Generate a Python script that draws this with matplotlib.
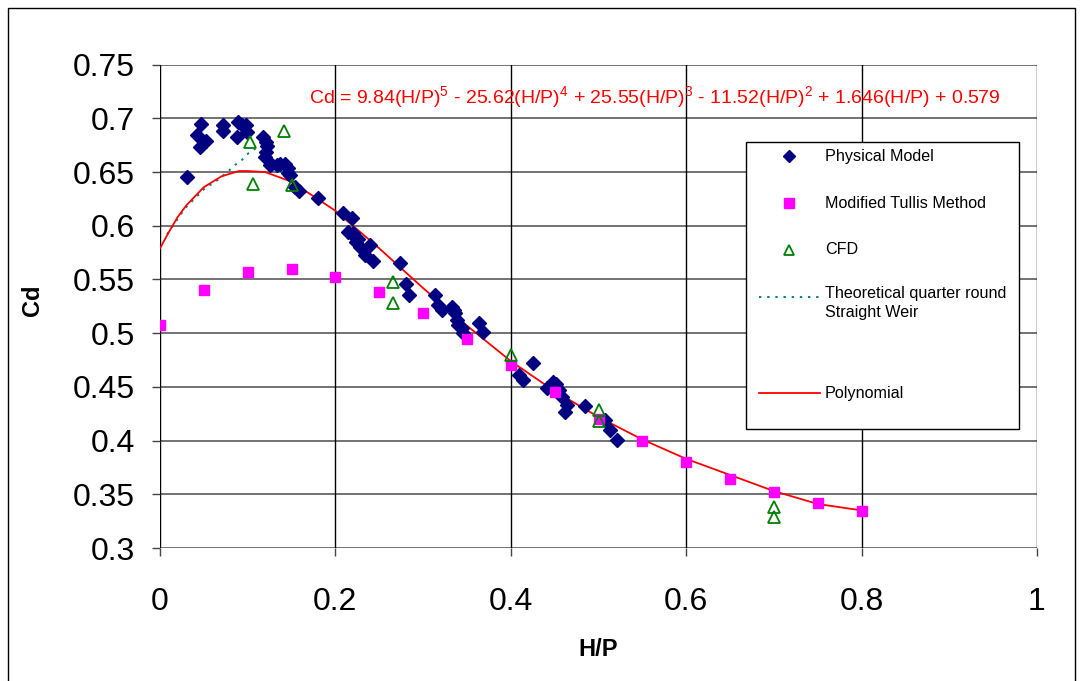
import matplotlib
matplotlib.use("Agg")
import matplotlib.pyplot as plt
from matplotlib.lines import Line2D
from matplotlib.patches import Rectangle

plt.rcParams['font.family'] = ['Liberation Sans', 'DejaVu Sans']
plt.rcParams['mathtext.fontset'] = 'custom'
plt.rcParams['mathtext.rm'] = 'Liberation Sans'
plt.rcParams['mathtext.it'] = 'Liberation Sans:italic'
plt.rcParams['mathtext.bf'] = 'Liberation Sans:bold'

# ---------------- data ----------------
phys_x = [0.031, 0.0418, 0.0468, 0.046, 0.053, 0.072, 0.072, 0.0874, 0.0893, 0.093,
          0.098, 0.0988, 0.1178, 0.121, 0.1224, 0.121, 0.1197, 0.1254, 0.127, 0.133,
          0.137, 0.1425, 0.146, 0.146, 0.148, 0.154, 0.158, 0.180, 0.209, 0.2186,
          0.2147, 0.220, 0.2223, 0.224, 0.226, 0.228, 0.2395, 0.2337, 0.2432, 0.2737,
          0.2805, 0.2843, 0.3136, 0.3174, 0.3212, 0.3326, 0.335, 0.3364, 0.3383, 0.340,
          0.344, 0.3458, 0.364, 0.368, 0.4097, 0.4143, 0.425, 0.441, 0.4485, 0.4504,
          0.452, 0.455, 0.458, 0.4637, 0.4618, 0.4846, 0.507, 0.513, 0.5215]
phys_y = [0.645, 0.685, 0.6948, 0.6737, 0.679, 0.694, 0.6886, 0.6824, 0.697, 0.694,
          0.694, 0.6876, 0.683, 0.678, 0.6743, 0.669, 0.664, 0.6566, 0.658, 0.6566,
          0.658, 0.658, 0.6535, 0.649, 0.647, 0.6364, 0.632, 0.6256, 0.6116, 0.607,
          0.5945, 0.593, 0.590, 0.585, 0.588, 0.5805, 0.582, 0.5728, 0.5675, 0.565,
          0.5458, 0.5356, 0.5356, 0.5263, 0.5216, 0.5247, 0.522, 0.5185, 0.5123, 0.5076,
          0.5046, 0.500, 0.5098, 0.5008, 0.461, 0.4564, 0.4725, 0.4487, 0.4548, 0.450,
          0.453, 0.447, 0.441, 0.4331, 0.427, 0.4322, 0.419, 0.410, 0.4006]

tullis_x = [0.0, 0.05, 0.1, 0.15, 0.2, 0.25, 0.3, 0.35, 0.4, 0.45, 0.5, 0.55, 0.6,
            0.65, 0.7, 0.75, 0.8]
tullis_y = [0.5076, 0.540, 0.5573, 0.5598, 0.5526, 0.5386, 0.5185, 0.4943, 0.4704,
            0.4455, 0.4198, 0.3999, 0.3798, 0.3642, 0.3519, 0.3419, 0.3347]

cfd_x = [0.1026, 0.1057, 0.1418, 0.150, 0.2653, 0.2653, 0.4002, 0.501, 0.501, 0.7005, 0.7005]
cfd_y = [0.678, 0.639, 0.6886, 0.638, 0.548, 0.5284, 0.4797, 0.4285, 0.4185, 0.3379, 0.3286]

theo_x = [0.008, 0.017, 0.0285, 0.053, 0.061, 0.078, 0.0855, 0.093, 0.1007, 0.112]
theo_y = [0.592, 0.6026, 0.6163, 0.6364, 0.6396, 0.651, 0.6566, 0.661, 0.6675, 0.6737]

poly_x = [0.0, 0.01, 0.02, 0.03, 0.05, 0.07, 0.09, 0.10, 0.12, 0.15, 0.20, 0.25, 0.30,
          0.35, 0.40, 0.45, 0.50, 0.55, 0.60, 0.65, 0.70, 0.75, 0.80]
poly_y = [0.579, 0.594, 0.608, 0.619, 0.636, 0.646, 0.651, 0.651, 0.650, 0.641, 0.614,
          0.579, 0.542, 0.507, 0.474, 0.446, 0.422, 0.401, 0.383, 0.368, 0.353, 0.341,
          0.335]

x_ticks = [0, 0.2, 0.4, 0.6, 0.8, 1]
x_tick_labels = ['0', '0.2', '0.4', '0.6', '0.8', '1']
y_ticks = [0.3, 0.35, 0.4, 0.45, 0.5, 0.55, 0.6, 0.65, 0.7, 0.75]
y_tick_labels = ['0.3', '0.35', '0.4', '0.45', '0.5', '0.55', '0.6', '0.65', '0.7', '0.75']

equation = (r"Cd = 9.84(H/P)$^{5}$ - 25.62(H/P)$^{4}$ + 25.55(H/P)$^{3}$ - "
            r"11.52(H/P)$^{2}$ + 1.646(H/P) + 0.579")
legend_labels = ['Physical Model', 'Modified Tullis Method', 'CFD',
                 'Theoretical quarter round\nStraight Weir', 'Polynomial']

# ---------------- figure ----------------
W, H = 1082, 681
fig = plt.figure(figsize=(W / 100, H / 100), dpi=100)
fig.patch.set_facecolor('white')


def fx(px):
    return px / W


def fy(py):
    return 1 - py / H


# chart-area border
fig.add_artist(Rectangle((fx(8), -0.01), fx(1075) - fx(8), fy(8) + 0.01,
                         transform=fig.transFigure, fill=False,
                         edgecolor='#000000', linewidth=1.0))

ax = fig.add_axes([fx(160), fy(548), fx(1037) - fx(160), fy(64.7) - fy(548)])
ax.set_xlim(0, 1)
ax.set_ylim(0.3, 0.75)
for s in ax.spines.values():
    s.set_visible(False)

ax.set_xticks(x_ticks)
ax.set_xticklabels(x_tick_labels)
ax.set_yticks(y_ticks)
ax.set_yticklabels(y_tick_labels)
ax.tick_params(axis='both', labelsize=23, direction='out', length=6, width=1,
               color='#444444')
ax.tick_params(axis='x', pad=22)
ax.tick_params(axis='y', pad=12)

# gridlines
for yv in y_ticks:
    ax.axhline(yv, color='#5a5a5a', linewidth=1.2, zorder=0)
for xv in x_ticks:
    ax.axvline(xv, color='#000000', linewidth=1.0, zorder=0)

ax.plot(poly_x, poly_y, color='#FF0000', linewidth=1.3, zorder=3)
ax.plot(theo_x, theo_y, color='#008080', linestyle=(0, (1.2, 3)), linewidth=1.4, zorder=2)
ax.plot(phys_x, phys_y, linestyle='none', marker='D', markersize=7.3,
        markerfacecolor='#000080', markeredgecolor='#000080', zorder=4)
ax.plot(tullis_x, tullis_y, linestyle='none', marker='s', markersize=7.3,
        markerfacecolor='#FF00FF', markeredgecolor='#FF00FF', zorder=4)
ax.plot(cfd_x, cfd_y, linestyle='none', marker='^', markersize=8.5,
        markerfacecolor='none', markeredgecolor='#008000', markeredgewidth=1.3, zorder=5)

ax.text(0.564, 0.72, equation, color='#FF0000', fontsize=14, ha='center', va='center')

fig.text(fx(598), fy(650), 'H/P', fontsize=17, fontweight='bold', ha='center', va='center')
fig.text(fx(32), fy(300), 'Cd', fontsize=17, fontweight='bold', ha='center', va='center',
         rotation=90)

# manual legend
fig.add_artist(Rectangle((fx(746), fy(429)), fx(1019) - fx(746), fy(142) - fy(429),
                         transform=fig.transFigure, facecolor='white',
                         edgecolor='#000000', linewidth=1.0, zorder=10))
mx = 789
rows = [156, 203, 250, 297, 393]
fig.add_artist(Line2D([fx(mx)], [fy(rows[0])], marker='D', markersize=6, color='#000080',
                      linestyle='none', transform=fig.transFigure, zorder=11))
fig.add_artist(Line2D([fx(mx)], [fy(rows[1])], marker='s', markersize=7, color='#FF00FF',
                      linestyle='none', transform=fig.transFigure, zorder=11))
fig.add_artist(Line2D([fx(mx)], [fy(rows[2])], marker='^', markersize=7.5,
                      markerfacecolor='none', markeredgecolor='#008000',
                      markeredgewidth=1.3, linestyle='none',
                      transform=fig.transFigure, zorder=11))
fig.add_artist(Line2D([fx(759), fx(820)], [fy(rows[3]), fy(rows[3])], color='#008080',
                      linestyle=(0, (1.2, 3)), linewidth=1.4,
                      transform=fig.transFigure, zorder=11))
fig.add_artist(Line2D([fx(759), fx(820)], [fy(rows[4]), fy(rows[4])], color='#FF0000',
                      linewidth=1.3, transform=fig.transFigure, zorder=11))
for i, lab in enumerate(legend_labels):
    if i == 3:
        fig.text(fx(825), fy(rows[3] - 11), lab, fontsize=11.6, ha='left', va='top',
                 linespacing=1.3, zorder=12)
    else:
        fig.text(fx(825), fy(rows[i]), lab, fontsize=11.6, ha='left', va='center', zorder=12)

fig.savefig('out.png', dpi=100)
